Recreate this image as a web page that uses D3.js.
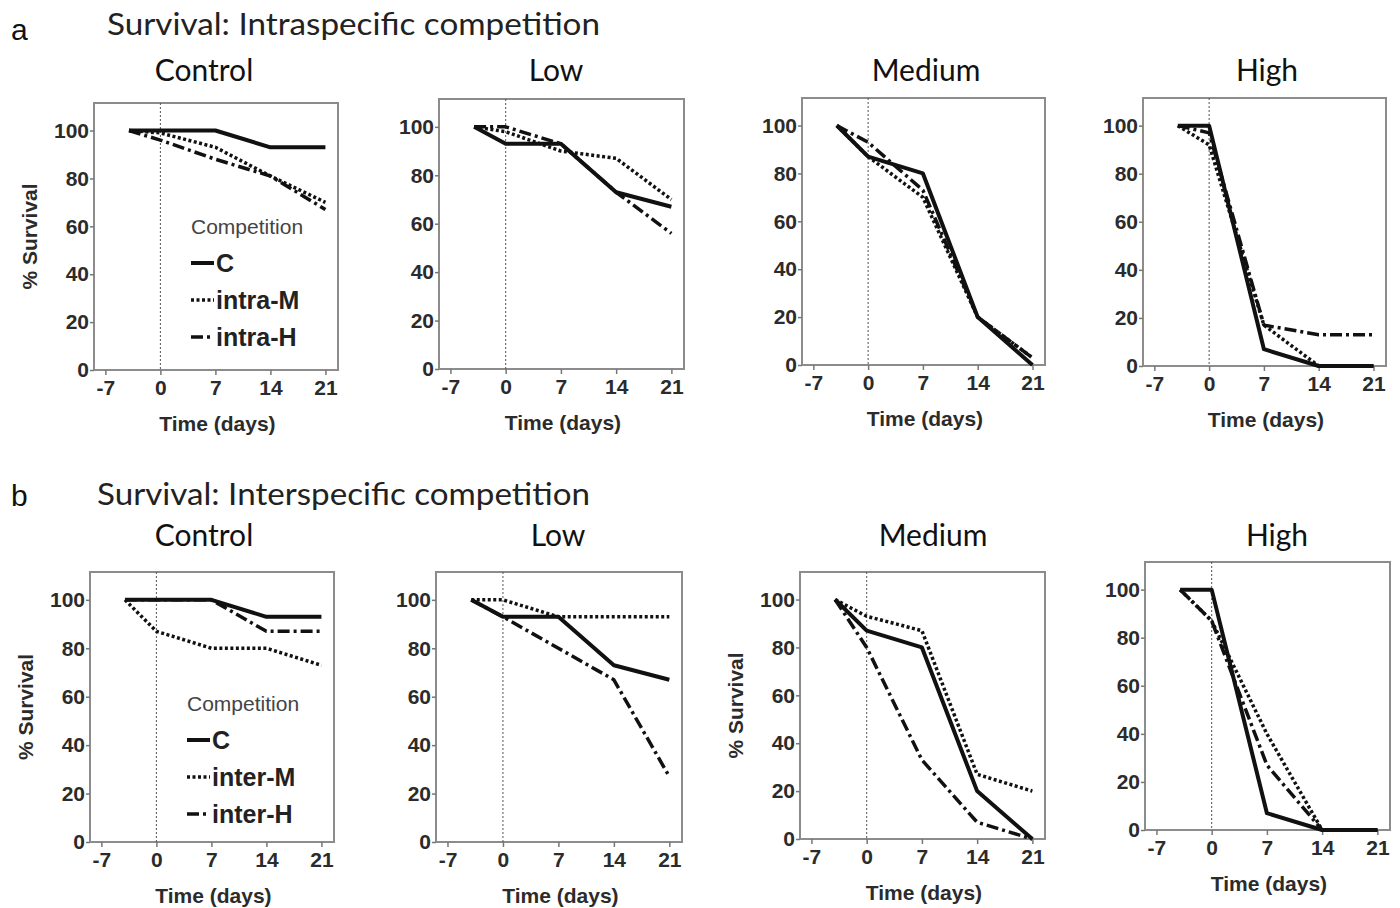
<!DOCTYPE html>
<html>
<head>
<meta charset="utf-8">
<script src="https://cdn.jsdelivr.net/npm/d3@7/dist/d3.min.js"></script>
<style>
body { margin: 0; background: #fff; }
.tick text { font-family: "Liberation Sans", Arial, sans-serif; font-size: 21px; font-weight: bold; fill: #2b2b2b; }
.tick line { stroke: #777; stroke-width: 1.5; }
.axisLabel { font-family: "Liberation Sans", Arial, sans-serif; font-size: 21px; font-weight: bold; fill: #2b2b2b; }
.rowTitle { font-family: Lato, "Open Sans", sans-serif; font-size: 30px; fill: #222; }
.panelTitle { font-family: Lato, "Open Sans", sans-serif; font-size: 30px; fill: #111; }
.rowLetter { font-family: "Liberation Sans", Arial, sans-serif; font-size: 30px; fill: #111; }
.legTitle { font-family: "Liberation Sans", Arial, sans-serif; font-size: 21px; fill: #444; }
.legText { font-family: "Liberation Sans", Arial, sans-serif; font-size: 25px; font-weight: bold; fill: #222; }
</style>
</head>
<body>
<svg id="main" width="1400" height="908"></svg>
<script>
var days = [-4, 0, 7, 14, 21];
var xTicks = [-7, 0, 7, 14, 21];
var yTicks = [0, 20, 40, 60, 80, 100];
var levels = ["Control", "Low", "Medium", "High"];

// row a: intraspecific, one list per level (Control, Low, Medium, High)
var intraC = [[100, 100, 100, 93, 93], [100, 93, 93, 73, 67], [100, 87, 80, 20, 0], [100, 100, 7, 0, 0]];
var intraM = [[100, 99, 93, 81, 70], [100, 98, 90, 87, 70], [100, 87, 70, 20, 3], [100, 92, 17, 0, 0]];
var intraH = [[100, 96, 88, 81, 67], [100, 100, 93, 73, 56], [100, 93, 73, 20, 3], [100, 97, 17, 13, 13]];

// row b: interspecific
var interC = [[100, 100, 100, 93, 93], [100, 93, 93, 73, 67], [100, 87, 80, 20, 0], [100, 100, 7, 0, 0]];
var interM = [[100, 87, 80, 80, 73], [100, 100, 93, 93, 93], [100, 93, 87, 27, 20], [100, 87, 40, 0, 0]];
var interH = [[100, 100, 100, 87, 87], [100, 93, 80, 67, 27], [100, 80, 33, 7, 0], [100, 87, 27, 0, 0]];

var seriesNames = ["C", "M", "H"];
var rowNames = ["Intraspecific", "Interspecific"];
var legendLabels = [["C", "intra-M", "intra-H"], ["C", "inter-M", "inter-H"]];

var svg = d3.select("#main");

// box of each panel on the page
var boxes = [
	[{l: 94, t: 103, r: 338, b: 370}, {l: 439, t: 99, r: 684, b: 369}, {l: 802, t: 98, r: 1045, b: 365}, {l: 1143, t: 98, r: 1386, b: 366}],
	[{l: 90, t: 572, r: 334, b: 842}, {l: 436, t: 572, r: 682, b: 842}, {l: 800, t: 572, r: 1045, b: 839}, {l: 1145, t: 562, r: 1390, b: 830}]
];
var titleX = [[204, 556, 926, 1267], [204, 558, 933, 1277]];
var titleY = [81, 546];

var styles = {
	C: {w: 4, dash: null},
	M: {w: 3.5, dash: "3,2.5"},
	H: {w: 3.5, dash: "12,4,3,4"}
};

// row headers
svg.append("text").attr("class", "rowLetter").attr("x", 11).attr("y", 40).text("a");
svg.append("text").attr("class", "rowLetter").attr("x", 11).attr("y", 506).text("b");
svg.append("text").attr("class", "rowTitle").attr("x", 107).attr("y", 35)
	.attr("textLength", 493).attr("lengthAdjust", "spacingAndGlyphs")
	.text("Survival: " + rowNames[0] + " competition");
svg.append("text").attr("class", "rowTitle").attr("x", 97).attr("y", 505)
	.attr("textLength", 493).attr("lengthAdjust", "spacingAndGlyphs")
	.text("Survival: " + rowNames[1] + " competition");

function drawPanel(row, col) {
	var bx = boxes[row][col];
	var data = row == 0 ? {C: intraC[col], M: intraM[col], H: intraH[col]}
	                    : {C: interC[col], M: interM[col], H: interH[col]};

	var x = d3.scaleLinear().domain([-8.45, 22.6]).range([bx.l, bx.r]);
	var y = d3.scaleLinear().domain([0, 111.5]).range([bx.b, bx.t]);

	var g = svg.append("g").attr("class", "panel");

	g.append("text").attr("class", "panelTitle")
		.attr("x", titleX[row][col]).attr("y", titleY[row])
		.attr("text-anchor", "middle").text(levels[col]);

	g.append("rect")
		.attr("x", bx.l).attr("y", bx.t)
		.attr("width", bx.r - bx.l).attr("height", bx.b - bx.t)
		.attr("fill", "none").attr("stroke", "#8c8c8c").attr("stroke-width", 2);

	// y axis
	var ya = g.append("g").attr("transform", "translate(" + bx.l + ",0)")
		.call(d3.axisLeft(y).tickValues(yTicks).tickFormat(d => String(d)).tickSize(4).tickSizeOuter(0).tickPadding(1));
	ya.select(".domain").remove();

	// x axis (plain hyphen for negatives, as in the original)
	var xa = g.append("g").attr("transform", "translate(0," + bx.b + ")")
		.call(d3.axisBottom(x).tickValues(xTicks).tickFormat(d => String(d)).tickSize(5).tickSizeOuter(0).tickPadding(5));
	xa.select(".domain").remove();

	g.append("text").attr("class", "axisLabel")
		.attr("x", (x(-7) + x(21)) / 2 + 2).attr("y", bx.b + 61)
		.attr("text-anchor", "middle").text("Time (days)");

	if (col == 0 || (row == 1 && col == 2)) {
		g.append("text").attr("class", "axisLabel")
			.attr("transform", "translate(" + (bx.l - 57) + "," + ((bx.t + bx.b) / 2) + ") rotate(-90)")
			.attr("text-anchor", "middle").text("% Survival");
	}

	// reference line at day 0
	g.append("line")
		.attr("x1", x(0)).attr("x2", x(0))
		.attr("y1", bx.t).attr("y2", bx.b)
		.attr("stroke", "#555").attr("stroke-width", 1).attr("stroke-dasharray", "2,2");

	var line = d3.line().x((d, i) => x(days[i])).y(d => y(d));

	["H", "M", "C"].forEach(function(s) {
		g.append("path")
			.datum(data[s])
			.attr("d", line)
			.attr("fill", "none")
			.attr("stroke", "#111")
			.attr("stroke-width", styles[s].w)
			.attr("stroke-dasharray", styles[s].dash)
			.attr("stroke-linejoin", "round");
	});

	if (col == 0) {
		var lx = bx.l + 97, ly = row == 0 ? 234 : 711;
		var leg = g.append("g").attr("transform", "translate(" + lx + "," + ly + ")");
		leg.append("text").attr("class", "legTitle").attr("x", 0).attr("y", 0).text("Competition");
		seriesNames.forEach(function(s, i) {
			var yy = 38 + i * 37;
			leg.append("line")
				.attr("x1", 0).attr("x2", 23).attr("y1", yy - 9).attr("y2", yy - 9)
				.attr("stroke", "#111").attr("stroke-width", styles[s].w)
				.attr("stroke-dasharray", styles[s].dash);
			leg.append("text").attr("class", "legText")
				.attr("x", 25).attr("y", yy).text(legendLabels[row][i]);
		});
	}
}

for (var r = 0; r < 2; r++)
	for (var c = 0; c < 4; c++)
		drawPanel(r, c);
</script>
</body>
</html>
